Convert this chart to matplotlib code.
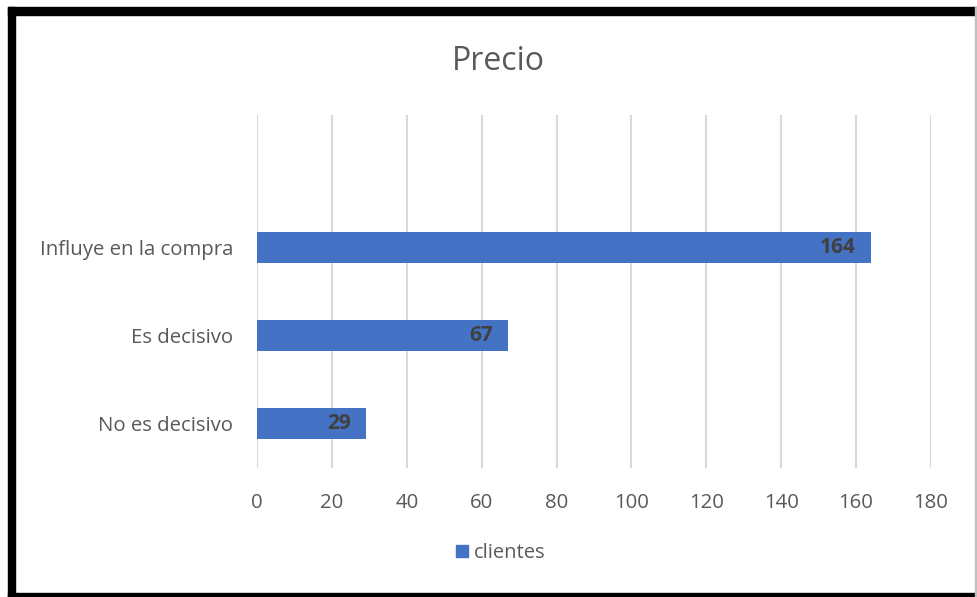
import matplotlib.pyplot as plt
from matplotlib.patches import Rectangle
from matplotlib.lines import Line2D

# ---------------- DATOS ----------------
categorias = ["No es decisivo", "Es decisivo", "Influye en la compra"]
clientes = [29, 67, 164]
ticks_x = [0, 20, 40, 60, 80, 100, 120, 140, 160, 180]

azul = "#4472C4"
gris = "#595959"

plt.rcParams['font.family'] = ['Open Sans', 'DejaVu Sans']

fig = plt.figure(figsize=(9.77, 5.97), dpi=100)
W, H = 977, 597
ax = fig.add_axes([257 / W, 1 - 468 / H, (931 - 257) / W, (468 - 115) / H])

pos = [0, 1, 2]
ax.barh(pos, clientes, height=0.35, color=azul, zorder=3)

for p, v in zip(pos, clientes):
    ax.text(v - 4, p, str(v), ha="right", va="center", fontsize=15,
            fontweight="bold", color="#404040", zorder=4)

ax.set_xlim(0, 180)
ax.set_ylim(-0.5, 3.5)
ax.set_xticks(ticks_x)
ax.set_yticks(pos)
ax.set_yticklabels(categorias)
ax.tick_params(axis="both", length=0, labelsize=14.7, labelcolor=gris)
ax.tick_params(axis="y", pad=17)
ax.tick_params(axis="x", pad=18)

ax.grid(True, axis="x", color="#d9d9d9", linewidth=1.5, zorder=0)
for s in ax.spines.values():
    s.set_visible(False)

fig.text(498 / W, 1 - 62 / H, "Precio", ha="center", va="center",
         fontsize=23, color=gris)

# leyenda
handle = Line2D([], [], marker="s", linestyle="none", markersize=9,
                markerfacecolor=azul, markeredgecolor=azul)
fig.legend([handle], ["clientes"], loc="center", bbox_to_anchor=(499 / W, 1 - 553 / H),
           frameon=False, fontsize=14.5, labelcolor=gris, handletextpad=0.1,
           handlelength=1)

# marco negro
negro = "black"
fig.add_artist(Rectangle((8 / W, 0), 7 / W, 1 - 7 / H, transform=fig.transFigure,
                         color=negro, zorder=10))
fig.add_artist(Rectangle((8 / W, 1 - 15 / H), 1 - 8 / W, 8 / H, transform=fig.transFigure,
                         color=negro, zorder=10))
fig.add_artist(Rectangle((8 / W, 0), 1 - 8 / W, 4 / H, transform=fig.transFigure,
                         color=negro, zorder=10))
fig.add_artist(Rectangle((1 - 2 / W, 0), 2 / W, 1 - 7 / H, transform=fig.transFigure,
                         color="#bfbfbf", zorder=10))

fig.savefig("out.png", dpi=100)
plt.close(fig)
